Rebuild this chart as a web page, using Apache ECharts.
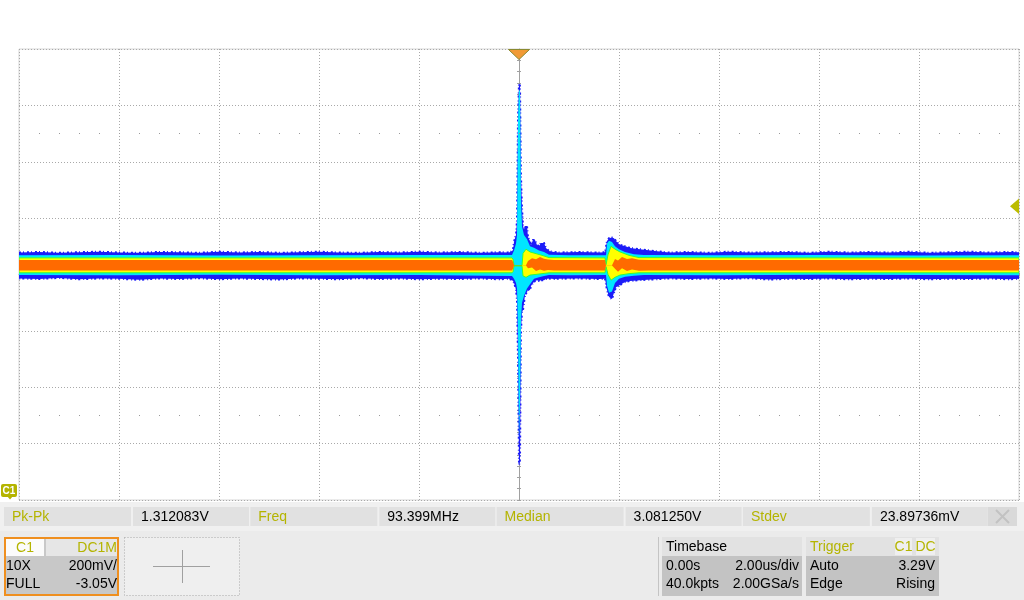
<!DOCTYPE html>
<html><head><meta charset="utf-8">
<script src="https://cdn.jsdelivr.net/npm/echarts@6/dist/echarts.min.js"></script>
<style>html,body{margin:0;padding:0;background:#fff;}#c{width:1024px;height:600px;}</style>
</head><body><div id="c"></div>
<script>
// Time in microseconds (2 us/div, trigger at 0), voltage in volts (200 mV/div, screen centre 3.05 V)
const timeRange = [-10, 10];
const voltRange = [2.25, 3.85];
const cursorLevels = [2.5, -2.5]; // in divisions from centre

// persistence envelopes: [time, low, high]
const blueEnv = [
 [-10,3.036,3.128],[-9.6,3.034,3.130],[-9.2,3.038,3.127],[-8.8,3.033,3.129],[-8.4,3.036,3.131],[-8.0,3.035,3.128],
 [-7.6,3.031,3.127],[-7.2,3.036,3.130],[-6.8,3.034,3.129],[-6.4,3.037,3.127],[-6.0,3.033,3.131],[-5.6,3.036,3.128],
 [-5.2,3.034,3.130],[-4.8,3.032,3.127],[-4.4,3.036,3.129],[-4.0,3.035,3.131],[-3.6,3.033,3.128],[-3.2,3.037,3.127],
 [-2.8,3.034,3.130],[-2.4,3.036,3.128],[-2.0,3.033,3.131],[-1.6,3.035,3.128],[-1.2,3.034,3.130],[-0.8,3.036,3.127],
 [-0.4,3.033,3.129],[-0.2,3.035,3.128],[-0.14,3.030,3.133],[-0.12,3.027,3.137],[-0.10,3.020,3.165],[-0.08,3.009,3.179],
 [-0.06,2.995,3.190],[-0.04,2.960,3.243],[-0.02,2.750,3.600],[0,2.374,3.729],[0.02,2.392,3.719],[0.04,2.853,3.396],
 [0.06,2.917,3.289],[0.08,2.924,3.222],[0.10,2.949,3.208],[0.12,2.977,3.222],[0.16,2.988,3.222],[0.18,2.995,3.183],
 [0.22,2.995,3.169],[0.24,3.009,3.155],[0.28,3.020,3.172],[0.32,3.027,3.172],[0.36,3.030,3.155],[0.40,3.027,3.151],
 [0.44,3.030,3.162],[0.50,3.030,3.162],[0.54,3.034,3.144],[0.60,3.036,3.133],[0.70,3.034,3.130],[0.80,3.035,3.128],
 [1.2,3.036,3.130],[1.6,3.034,3.128],[1.72,3.035,3.129],[1.76,2.995,3.169],[1.80,2.970,3.179],[1.86,2.963,3.181],
 [1.90,2.985,3.179],[1.94,3.005,3.169],[2.02,3.013,3.155],[2.12,3.023,3.151],[2.22,3.027,3.144],[2.42,3.030,3.140],
 [2.72,3.033,3.133],[3.0,3.036,3.128],[3.4,3.034,3.130],[3.8,3.036,3.127],[4.2,3.034,3.131],[4.6,3.037,3.128],
 [5.0,3.032,3.129],[5.4,3.035,3.130],[5.8,3.034,3.127],[6.2,3.036,3.131],[6.6,3.033,3.128],[7.0,3.035,3.130],
 [7.4,3.034,3.128],[7.8,3.036,3.131],[8.2,3.033,3.127],[8.6,3.035,3.129],[9.0,3.034,3.131],[9.4,3.036,3.128],
 [9.8,3.033,3.130],[10,3.035,3.129]
];
const cyanEnv = [
 [-10,3.048,3.118],[-8,3.047,3.119],[-6,3.049,3.117],[-4,3.047,3.118],[-2,3.048,3.119],[-0.14,3.045,3.119],
 [-0.10,3.035,3.135],[-0.06,3.020,3.160],[-0.04,3.000,3.190],[-0.02,2.853,3.598],[0,2.463,3.705],[0.02,2.594,3.700],
 [0.04,2.889,3.314],[0.06,2.950,3.220],[0.10,2.975,3.190],[0.16,3.000,3.175],[0.22,3.015,3.150],[0.30,3.035,3.145],
 [0.40,3.040,3.135],[0.50,3.045,3.130],[0.60,3.048,3.120],[1.0,3.047,3.118],[1.74,3.048,3.118],[1.76,3.010,3.160],
 [1.80,2.985,3.170],[1.86,2.990,3.165],[1.92,3.020,3.150],[2.00,3.035,3.140],[2.12,3.042,3.130],[2.30,3.046,3.122],
 [2.50,3.048,3.119],[4,3.047,3.118],[6,3.049,3.119],[8,3.048,3.117],[10,3.047,3.118]
];
const yellowEnv = [
 [-10,3.056,3.109],[-5,3.056,3.109],[-0.14,3.056,3.109],[-0.12,3.060,3.105],[-0.10,3.080,3.082],[0.06,3.080,3.082],
 [0.08,3.045,3.125],[0.14,3.040,3.140],[0.22,3.048,3.130],[0.32,3.050,3.125],[0.46,3.053,3.118],[0.60,3.056,3.110],
 [1.72,3.056,3.109],[1.74,3.078,3.085],[1.78,3.050,3.120],[1.84,3.030,3.150],[1.92,3.040,3.140],[2.02,3.048,3.130],
 [2.20,3.053,3.118],[2.40,3.056,3.110],[5,3.056,3.109],[10,3.056,3.109]
];
const orangeEnv = [
 [-10,3.064,3.101],[-5,3.064,3.101],[-0.14,3.064,3.101],[-0.12,3.070,3.095],[-0.10,3.082,3.083],[0.14,3.082,3.083],
 [0.18,3.072,3.098],[0.26,3.075,3.108],[0.34,3.062,3.104],[0.42,3.068,3.112],[0.50,3.063,3.106],[0.58,3.066,3.103],
 [0.70,3.064,3.101],[1.72,3.064,3.101],[1.74,3.082,3.083],[1.86,3.082,3.083],[1.92,3.070,3.105],[1.98,3.060,3.100],
 [2.06,3.072,3.112],[2.16,3.062,3.105],[2.26,3.068,3.108],[2.40,3.063,3.102],[2.60,3.064,3.101],[6,3.064,3.101],
 [10,3.064,3.101]
];

const measLabels = ['Pk-Pk', 'Freq', 'Median', 'Stdev'];
const measValues = ['1.312083V', '93.399MHz', '3.081250V', '23.89736mV'];
const chanHeader = ['C1', 'DC1M'];
const chanRows = [['10X', '200mV/'], ['FULL', '-3.05V']];
const timebaseTitle = 'Timebase';
const timebaseRows = [['0.00s', '2.00us/div'], ['40.0kpts', '2.00GSa/s']];
const triggerHeader = ['Trigger', 'C1', 'DC'];
const triggerRows = [['Auto', '3.29V'], ['Edge', 'Rising']];
const channelTag = 'C1';

const OLIVE = '#b4b400';
const FONT = '"Liberation Sans", Arial, sans-serif';

function layer(env, fill, stroke, lw, dash) {
  return {
    type: 'custom', xAxisIndex: 0, yAxisIndex: 0, clip: true, silent: true,
    data: env, encode: { x: 0, y: [1, 2] },
    renderItem: function (params, api) {
      if (params.dataIndex !== 0) return null;
      const top = env.map(d => api.coord([d[0], d[2]]));
      const bot = env.map(d => api.coord([d[0], d[1]])).reverse();
      return { type: 'polygon', shape: { points: top.concat(bot) },
        style: { fill: fill, stroke: stroke || null, lineWidth: lw || 0, lineDash: dash || null } };
    }
  };
}

function txt(x, y, s, color, align) {
  return { type: 'text', x: x, y: y, z: 50,
    style: { text: s, fill: color || '#000', font: '14px ' + FONT, align: align || 'left', verticalAlign: 'middle' } };
}
function rect(x, y, w, h, fill, extra) {
  return Object.assign({ type: 'rect', shape: { x: x, y: y, width: w, height: h }, z: 40, style: { fill: fill } }, extra || {});
}
function line(x1, y1, x2, y2, color, w) {
  return { type: 'line', z: 45, shape: { x1: x1, y1: y1, x2: x2, y2: y2 }, style: { stroke: color, lineWidth: w || 1 } };
}

const g = [];
// measurement bar
g.push(rect(0, 502, 1024, 29, '#f0f0f0'));
g.push(rect(0, 531, 1024, 69, '#ebebeb'));
measLabels.forEach((lab, i) => {
  const b = 4 + i * 246.3;
  g.push(rect(b, 507, 127, 19, '#e1e1e1'));
  g.push(rect(b + 129, 507, 116, 19, '#e1e1e1'));
  g.push(txt(b + 8, 517, lab, OLIVE));
  g.push(txt(b + 137, 517, measValues[i], '#000'));
});
g.push(rect(988, 507, 29, 19, '#d9d9d9'));
g.push(line(996, 510, 1009, 523, '#c2c2c2', 2));
g.push(line(1009, 510, 996, 523, '#c2c2c2', 2));
// channel box
g.push(rect(5, 538, 113, 57, '#c8c8c8', { style: { fill: '#c8c8c8', stroke: '#ef8f1f', lineWidth: 2 } }));
g.push(rect(6, 539, 38, 17, '#fbfbfb'));
g.push(rect(46, 539, 71, 17, '#e6e6e6'));
g.push(txt(25, 548, chanHeader[0], OLIVE, 'center'));
g.push(txt(117, 548, chanHeader[1], OLIVE, 'right'));
chanRows.forEach((r, i) => {
  g.push(txt(6, 566 + i * 18.5, r[0], '#000'));
  g.push(txt(117, 566 + i * 18.5, r[1], '#000', 'right'));
});
// empty slot with cross
g.push(rect(124.5, 537.5, 115, 58, '#efefef', { style: { fill: '#efefef', stroke: '#a8a8a8', lineWidth: 1, lineDash: [1, 2] } }));
g.push(line(153, 566.5, 210, 566.5, '#a0a0a0'));
g.push(line(182.5, 550, 182.5, 583, '#a0a0a0'));
// separator
g.push(line(658.5, 537, 658.5, 596, '#c4c4c4'));
// timebase
g.push(rect(662, 537, 140, 59, '#c3c3c3'));
g.push(rect(662, 537, 140, 19, '#e2e2e2'));
g.push(txt(666, 547, timebaseTitle, '#000'));
timebaseRows.forEach((r, i) => {
  g.push(txt(666, 566 + i * 18.5, r[0], '#000'));
  g.push(txt(799, 566 + i * 18.5, r[1], '#000', 'right'));
});
// trigger
g.push(rect(806, 537, 133, 59, '#c3c3c3'));
g.push(rect(806, 537, 133, 19, '#e2e2e2'));
g.push(rect(895, 538, 17, 17, '#efefef'));
g.push(rect(916, 538, 19, 17, '#efefef'));
g.push(txt(810, 547, triggerHeader[0], OLIVE));
g.push(txt(903.5, 547, triggerHeader[1], OLIVE, 'center'));
g.push(txt(925.5, 547, triggerHeader[2], OLIVE, 'center'));
triggerRows.forEach((r, i) => {
  g.push(txt(810, 566 + i * 18.5, r[0], '#000'));
  g.push(txt(935, 566 + i * 18.5, r[1], '#000', 'right'));
});
// markers
g.push({ type: 'polygon', z: 100, shape: { points: [[508.5, 49.5], [529.5, 49.5], [519, 59.5]] }, style: { fill: '#f19a35', stroke: '#8a8a30', lineWidth: 1 } });
g.push({ type: 'polygon', z: 100, shape: { points: [[1019, 198.5], [1019, 214], [1010, 206.3]] }, style: { fill: '#bcbc00' } });
g.push({ type: 'rect', z: 100, shape: { x: 1, y: 484, width: 16, height: 13, r: 2 }, style: { fill: '#b4b400' } });
g.push({ type: 'polygon', z: 100, shape: { points: [[7, 496], [13, 496], [10, 499.5]] }, style: { fill: '#b4b400' } });
g.push({ type: 'text', z: 101, x: 9, y: 491, style: { text: channelTag, fill: '#fff', font: 'bold 10px ' + FONT, align: 'center', verticalAlign: 'middle' } });

const axisGray = '#a0a0a0';
const option = {
  animation: false,
  backgroundColor: '#ffffff',
  grid: { left: 19, top: 49, width: 1000, height: 451, show: true, borderColor: '#d6d6d6', borderWidth: 1, backgroundColor: '#fff' },
  xAxis: [
    { type: 'value', min: timeRange[0], max: timeRange[1], interval: 2,
      axisLine: { show: false }, axisTick: { show: false }, axisLabel: { show: false },
      splitLine: { show: true, lineStyle: { color: '#a9a9a9', type: [1, 2] } } },
    { type: 'value', min: timeRange[0], max: timeRange[1], interval: 2,
      axisLine: { show: true, onZero: true, onZeroAxisIndex: 1, lineStyle: { color: axisGray } },
      axisTick: { show: true, length: 2, lineStyle: { color: axisGray } },
      minorTick: { show: true, splitNumber: 5, length: 2, lineStyle: { color: axisGray } },
      axisLabel: { show: false }, splitLine: { show: false } },
    { type: 'value', min: timeRange[0], max: timeRange[1], interval: 2,
      axisLine: { show: false, onZero: true, onZeroAxisIndex: 1 },
      axisTick: { show: true, inside: true, length: 2, lineStyle: { color: axisGray } },
      minorTick: { show: true, splitNumber: 5, length: 2, lineStyle: { color: axisGray } },
      axisLabel: { show: false }, splitLine: { show: false } }
  ],
  yAxis: [
    { type: 'value', min: voltRange[0], max: voltRange[1], show: false },
    { type: 'value', min: -4, max: 4, interval: 1,
      axisLine: { show: true, onZero: true, onZeroAxisIndex: 0, lineStyle: { color: axisGray } },
      axisTick: { show: true, length: 2, lineStyle: { color: axisGray } },
      minorTick: { show: true, splitNumber: 5, length: 2, lineStyle: { color: axisGray } },
      axisLabel: { show: false },
      splitLine: { show: true, lineStyle: { color: '#a9a9a9', type: [1, 2] } } },
    { type: 'value', min: -4, max: 4, interval: 1,
      axisLine: { show: false, onZero: true, onZeroAxisIndex: 0 },
      axisTick: { show: true, inside: true, length: 2, lineStyle: { color: axisGray } },
      minorTick: { show: true, splitNumber: 5, length: 2, lineStyle: { color: axisGray } },
      axisLabel: { show: false }, splitLine: { show: false } }
  ],
  series: [
    { type: 'line', xAxisIndex: 0, yAxisIndex: 1, data: [], silent: true,
      markLine: { silent: true, symbol: 'none', label: { show: false },
        lineStyle: { color: '#9a9a9a', type: [1, 19], width: 1 },
        data: cursorLevels.map(v => ({ yAxis: v })) } },
    layer(blueEnv, '#1c1cf8', '#1c1cf8', 2, [2, 2, 1, 3]),
    layer(cyanEnv, '#00e6ff'),
    layer(yellowEnv, '#ffff00', '#33ff33', 1),
    layer(orangeEnv, '#ff6a00')
  ],
  graphic: { elements: g }
};
const chart = echarts.init(document.getElementById('c'));
chart.setOption(option);
</script></body></html>
